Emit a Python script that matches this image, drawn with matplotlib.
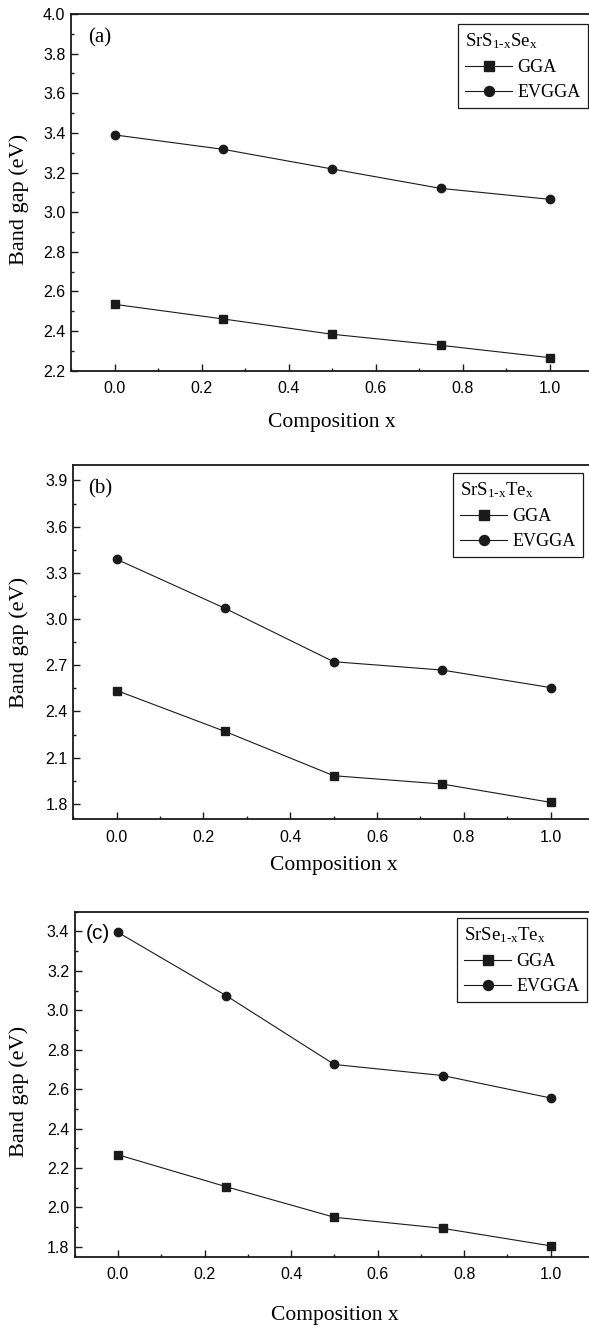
import numpy as np
import matplotlib
matplotlib.use("Agg")
import matplotlib.pyplot as plt
from matplotlib.ticker import MultipleLocator

plt.rcParams['font.family'] = ['Liberation Sans', 'DejaVu Sans']
plt.rcParams['mathtext.fontset'] = 'custom'
plt.rcParams['mathtext.rm'] = 'Liberation Serif'
plt.rcParams['mathtext.it'] = 'Liberation Serif:italic'

# composition values
comp_x = [0.0, 0.25, 0.5, 0.75, 1.0]

# band gaps (eV)
gga_a = [2.535, 2.461, 2.384, 2.328, 2.266]
evgga_a = [3.390, 3.317, 3.218, 3.120, 3.065]
gga_b = [2.536, 2.270, 1.983, 1.929, 1.810]
evgga_b = [3.388, 3.069, 2.723, 2.669, 2.555]
gga_c = [2.267, 2.105, 1.950, 1.894, 1.805]
evgga_c = [3.395, 3.074, 2.725, 2.669, 2.555]

titles = [r'SrS$_{\text{1-x}}$Se$_{\text{x}}$',
          r'SrS$_{\text{1-x}}$Te$_{\text{x}}$',
          r'SrSe$_{\text{1-x}}$Te$_{\text{x}}$']
panel_tags = ['(a)', '(b)', '(c)']

W, H = 589, 1331
fig = plt.figure(figsize=(W / 100, H / 100), dpi=100)

# axes boxes in pixels: left, right, top, bottom (right edge runs past the canvas)
boxes = [(71, 593, 14, 370.7),
         (73.3, 594, 465, 819.3),
         (74.7, 594, 911.7, 1256.7)]
ylims = [(2.2, 4.0), (1.7, 4.0), (1.75, 3.5)]
ymajor = [0.2, 0.3, 0.2]
leg_anchor = [(0.9904, 0.972), (0.979, 0.978), (0.9865, 0.982)]
tag_pos = [(0.0556, 0.9327), (0.0513, 0.932), (0.0439, 0.938)]
xlab_y = [-0.1466, -0.129, -0.169]
ylab_xy = [(-0.0996, 0.48), (-0.104, 0.5), (-0.107, 0.48)]

series = [(gga_a, evgga_a), (gga_b, evgga_b), (gga_c, evgga_c)]
ink = '#1a1a1a'

for i in range(3):
    l, r, t, b = boxes[i]
    ax = fig.add_axes([l / W, 1 - b / H, (r - l) / W, (b - t) / H])
    gga, evgga = series[i]
    ax.plot(comp_x, gga, '-s', color=ink, lw=0.8, ms=5.6, label='GGA')
    ax.plot(comp_x, evgga, '-o', color=ink, lw=0.8, ms=6.0, label='EVGGA')

    ax.set_xlim(-0.1, 1.1)
    ax.set_ylim(*ylims[i])
    ax.xaxis.set_major_locator(MultipleLocator(0.2))
    ax.xaxis.set_minor_locator(MultipleLocator(0.1))
    ax.yaxis.set_major_locator(MultipleLocator(ymajor[i]))
    ax.yaxis.set_minor_locator(MultipleLocator(ymajor[i] / 2))
    ax.xaxis.set_major_formatter(plt.FormatStrFormatter('%.1f'))
    ax.yaxis.set_major_formatter(plt.FormatStrFormatter('%.1f'))

    ax.tick_params(which='both', direction='in', top=False, right=False,
                   color=ink, width=1.0)
    ax.tick_params(which='major', length=5)
    ax.tick_params(which='minor', length=2.5)
    ax.tick_params(axis='x', which='major', pad=7.5, labelsize=11.5)
    ax.tick_params(axis='y', which='major', pad=4, labelsize=11.5)
    for sp in ax.spines.values():
        sp.set_linewidth(1.3)
        sp.set_color(ink)

    ax.set_xlabel('Composition x', family='Liberation Serif', fontsize=15.5)
    ax.set_ylabel('Band gap (eV)', family='Liberation Serif', fontsize=16)
    ax.xaxis.set_label_coords(0.5, xlab_y[i])
    ax.xaxis.label.set_va('center')
    ax.yaxis.set_label_coords(*ylab_xy[i])
    ax.yaxis.label.set_va('center')

    fam = 'Liberation Sans' if i == 2 else 'Liberation Serif'
    ax.text(tag_pos[i][0], tag_pos[i][1], panel_tags[i], transform=ax.transAxes,
            ha='center', va='center', fontsize=15, family=fam)

    leg = ax.legend(title=titles[i], loc='upper right',
                    bbox_to_anchor=leg_anchor[i], borderaxespad=0,
                    prop={'family': 'Liberation Serif', 'size': 13},
                    title_fontproperties={'family': 'Liberation Serif', 'size': 13.5},
                    alignment='left', fancybox=False, framealpha=1,
                    edgecolor=ink, handlelength=2.6, handletextpad=0.3,
                    borderpad=0.4, labelspacing=0.45, markerscale=1.2)
    leg.get_frame().set_linewidth(0.9)

fig.savefig('out.png', dpi=100)
